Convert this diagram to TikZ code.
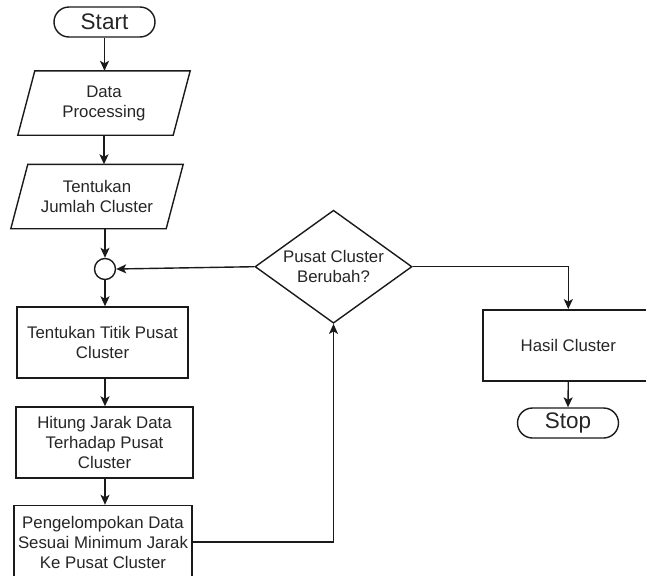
\documentclass[tikz,border=0pt]{standalone}
\usepackage{fontspec}
\setmainfont{Liberation Sans}
\usetikzlibrary{arrows.meta,shapes.geometric,calc}
\definecolor{ink}{HTML}{1A1A1A}
\definecolor{txt}{HTML}{262626}

\begin{document}
\begin{tikzpicture}[x=1pt,y=-1pt,
  base/.style={draw=ink, line width=1.4pt, text=txt, align=center, inner sep=0pt,
    font=\fontsize{16.8}{20}\selectfont},
  terminal/.style={base, rectangle, rounded corners=15pt, minimum width=101pt,
    minimum height=30pt, font=\fontsize{22.5}{26}\selectfont},
  process/.style={base, rectangle, minimum height=71pt},
  io/.style={base, draw=none, rectangle, minimum width=171pt, minimum height=63pt},
  decision/.style={base, diamond, shape aspect=1.39, minimum width=157pt, minimum height=113pt},
  junction/.style={draw=ink, line width=1.4pt, circle, minimum size=21pt, inner sep=0pt},
  flow/.style={draw=ink, line width=1.4pt, -{Stealth[length=10pt,width=9pt,inset=2.5pt]}},
  outline/.style={draw=ink, line width=1.4pt, line join=miter},
]
\useasboundingbox (0,0) rectangle (646,576);
\clip (0,0) rectangle (646,576);
\fill[white] (0,0) rectangle (646,576);

% left column
\node[terminal] (start) at (104.5,22) {Start};
\node[io] (dp) at (104,103) {Data\\Processing};
\draw[outline] ($(dp.north west)+(17,0)$) -- (dp.north east) -- ($(dp.south east)+(-17,0)$)
  -- (dp.south west) -- cycle;
\node[io] (tj) at (97,196.5) {Tentukan\\Jumlah Cluster};
\draw[outline] ($(tj.north west)+(17,0)$) -- (tj.north east) -- ($(tj.south east)+(-17,0)$)
  -- (tj.south west) -- cycle;
\node[junction] (junc) at (105,269) {};
\node[process, minimum width=171pt] (titik) at (102.5,342.5) {Tentukan Titik Pusat\\Cluster};
\node[process, minimum width=177pt] (hitung) at (104.5,442.5) {Hitung Jarak Data\\Terhadap Pusat\\Cluster};
\node[process, minimum width=178pt, minimum height=73pt] (peng) at (103,542)
  {Pengelompokan Data\\Sesuai Minimum Jarak\\Ke Pusat Cluster};

% decision and right column
\node[decision] (dec) at (333.5,266.7) {Pusat Cluster\\Berubah?};
\node[process, minimum width=171pt] (hasil) at (568.3,345.3) {Hasil Cluster};
\node[terminal] (stop) at (568,423) {Stop};

% connectors
\draw[flow] (start.south) -- (start.south |- dp.north);
\draw[flow] (dp.south) -- (dp.south |- tj.north);
\draw[flow] (junc.north |- tj.south) -- (junc.north);
\draw[flow] (junc.south) -- (junc.south |- titik.north);
\draw[flow] (junc.south |- titik.south) -- (junc.south |- hitung.north);
\draw[flow] (junc.south |- hitung.south) -- (junc.south |- peng.north);
\draw[flow] (peng.east) -| (dec.south);
\draw[flow] (dec.west) -- (junc.east);
\draw[flow] (dec.east) -| (hasil.north);
\draw[flow] (hasil.south) -- (stop.north);
\end{tikzpicture}
\end{document}
